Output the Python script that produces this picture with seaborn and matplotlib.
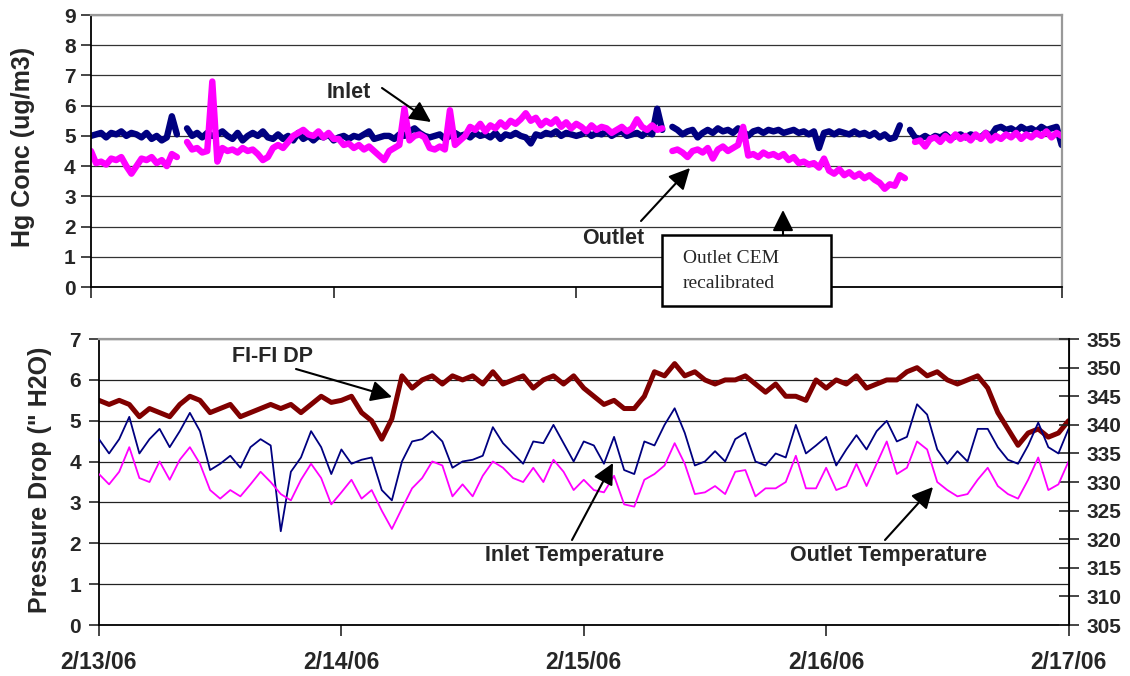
import numpy as np
import pandas as pd
import matplotlib
matplotlib.use('Agg')
import matplotlib.pyplot as plt
import seaborn as sns
from matplotlib.patches import Rectangle, FancyArrowPatch

nan = np.nan

# tick labels for the days
day_ticks = [0, 24, 48, 72, 96]
day_labels = ['2/13/06', '2/14/06', '2/15/06', '2/16/06', '2/17/06']

# Hg concentration, every half hour (ug/m3)
hg_inlet = [
    5.0, 5.05, 5.1, 4.95, 5.1, 5.05, 5.15, 5.0, 5.1, 5.05, 4.95, 5.1, 4.9, 5.0, 4.85, 4.95,
    5.65, 5.05, nan, 5.25,
    5.0, 5.1, 4.95, 5.1, 5.0, 5.05, 5.15, 5.0, 4.9, 5.1, 4.85, 5.0, 5.1, 5.0, 5.15, 4.95,
    4.9, 5.05, 4.9, 5.0, 4.85, 5.1, 4.9, 5.0, 4.85, 5.0, 4.95, 5.05, 4.85,
    4.95, 5.0, 4.9, 5.0, 4.95, 5.05, 5.15, 4.9, 4.95, 5.0, 5.0, 4.9, 5.05, 5.0, 5.15, 5.25,
    5.1, 5.0, 4.95, 5.0, 5.05, 4.9, 5.0, 5.1, 5.0, 5.05, 4.95, 5.1, 5.0, 5.05, 4.95, 5.1,
    4.9, 5.05, 5.0, 5.1, 5.0, 4.95, 4.75, 5.05, 5.0, 5.1, 5.05, 5.15, 5.0, 5.1, 5.05, 5.0,
    5.05, 5.15, 5.0, 5.1, 5.05, 5.15, 5.0, 5.1, 5.15, 5.0, 5.05, 5.1, 5.0, 5.15, 5.05, 5.9,
    5.2, nan, 5.3, 5.2, 5.05, 5.15, 5.2, 4.95, 5.1, 5.2, 5.1, 5.25, 5.15, 5.2, 5.1, 5.25,
    5.15, 5.0, 5.15, 5.2, 5.1, 5.2, 5.15, 5.2, 5.1, 5.15, 5.2, 5.1, 5.15, 5.05, 5.15, 4.6,
    5.1, 5.15, 5.05, 5.15, 5.1, 5.05, 5.15, 5.05, 5.1, 5.0, 5.1, 4.95, 5.05, 4.9, 4.95, 5.35,
    nan, 5.2, 4.95, 4.9, 5.0, 4.9, 5.0, 4.95, 5.05, 4.9, 5.0, 5.05, 4.95, 5.05, 5.0, 4.95,
    5.1, 5.0, 5.25, 5.3, 5.2, 5.25, 5.15, 5.3, 5.2, 5.25, 5.15, 5.3, 5.2, 5.25, 5.3, 4.7,
]
hg_outlet = [
    4.5, 4.1, 4.15, 4.05, 4.25, 4.2, 4.3, 4.0, 3.75, 4.0, 4.25, 4.2, 4.3, 4.1, 4.2, 4.0,
    4.4, 4.3, nan, 4.8,
    4.55, 4.6, 4.45, 4.5, 6.8, 4.15, 4.6, 4.5, 4.55, 4.45, 4.6, 4.5, 4.55, 4.4, 4.2, 4.3,
    4.6, 4.7, 4.6, 4.8, 5.0, 5.1, 5.2, 5.05, 5.0, 5.15, 4.95, 5.1, 4.9,
    4.9, 4.7, 4.75, 4.6, 4.7, 4.55, 4.65, 4.5, 4.35, 4.2, 4.5, 4.6, 4.7, 5.9, 4.85, 5.0,
    5.05, 4.95, 4.6, 4.55, 4.65, 4.55, 5.85, 4.7, 4.85, 5.0, 5.3, 5.2, 5.4, 5.15, 5.35, 5.25,
    5.45, 5.3, 5.5, 5.4, 5.55, 5.75, 5.5, 5.6, 5.35, 5.5, 5.4, 5.55, 5.3, 5.45, 5.25, 5.4,
    5.3, 5.15, 5.35, 5.2, 5.3, 5.25, 5.1, 5.2, 5.3, 5.15, 5.25, 5.55, 5.3, 5.2, 5.35, 5.2,
    5.25, nan, 4.5, 4.55, 4.45, 4.3, 4.5, 4.55, 4.45, 4.6, 4.25, 4.55, 4.65, 4.5, 4.6, 4.7,
    5.3, 4.35, 4.4, 4.3, 4.45, 4.35, 4.4, 4.3, 4.4, 4.2, 4.3, 4.1, 4.15, 4.05, 4.1, 3.95,
    4.25, 3.85, 3.75, 3.9, 3.7, 3.8, 3.65, 3.75, 3.6, 3.7, 3.55, 3.45, 3.25, 3.4, 3.35, 3.7,
    3.6, nan, 4.8, 4.85, 4.65, 4.9, 4.95, 4.8, 5.0, 4.85, 5.05, 4.9, 5.0, 4.85, 5.05, 4.9,
    5.1, 4.85, 5.0, 4.9, 5.05, 4.95, 5.1, 4.9, 5.05, 4.95, 5.1, 5.0, 5.15, 4.95, 5.1, 5.0,
]

# fabric filter pressure drop, hourly (" H2O)
dp = [
    5.5, 5.4, 5.5, 5.4, 5.1, 5.3, 5.2, 5.1, 5.4, 5.6, 5.5, 5.2,
    5.3, 5.4, 5.1, 5.2, 5.3, 5.4, 5.3, 5.4, 5.2, 5.4, 5.6, 5.45,
    5.5, 5.6, 5.2, 5.0, 4.55, 5.05, 6.1, 5.8, 6.0, 6.1, 5.9, 6.1,
    6.0, 6.1, 5.9, 6.2, 5.9, 6.0, 6.1, 5.8, 6.0, 6.1, 5.9, 6.1,
    5.8, 5.6, 5.4, 5.5, 5.3, 5.3, 5.6, 6.2, 6.1, 6.4, 6.1, 6.2,
    6.0, 5.9, 6.0, 6.0, 6.1, 5.9, 5.7, 5.9, 5.6, 5.6, 5.5, 6.0,
    5.8, 6.0, 5.9, 6.1, 5.8, 5.9, 6.0, 6.0, 6.2, 6.3, 6.1, 6.2,
    6.0, 5.9, 6.0, 6.1, 5.8, 5.2, 4.8, 4.4, 4.7, 4.8, 4.6, 4.7,
    5.0,
]

# temperatures, hourly (right axis)
temp_inlet = [
    337.5, 335.0, 337.5, 341.4, 335.0, 337.5, 339.3, 336.1, 338.9, 342.1, 338.9, 332.1,
    333.2, 334.6, 332.5, 336.1, 337.5, 336.4, 321.4, 331.8, 334.3, 338.9, 336.1, 331.4,
    335.7, 333.2, 333.9, 334.3, 328.6, 326.8, 333.6, 337.1, 337.5, 338.9, 337.1, 332.5,
    333.6, 333.9, 334.6, 339.6, 336.8, 335.0, 333.2, 337.1, 336.8, 340.0, 336.8, 333.6,
    337.1, 336.4, 333.2, 337.9, 332.1, 331.4, 337.1, 336.4, 340.0, 342.9, 338.6, 332.9,
    333.6, 335.4, 333.6, 337.5, 338.6, 333.6, 332.9, 335.0, 334.3, 340.0, 335.0, 336.4,
    337.9, 332.9, 335.7, 338.2, 335.7, 338.9, 340.7, 337.1, 337.9, 343.6, 341.8, 335.7,
    333.2, 335.4, 333.6, 339.3, 339.3, 336.1, 333.9, 333.2, 336.4, 340.4, 336.1, 335.0,
    339.3,
]
temp_outlet = [
    331.4, 329.6, 331.8, 336.1, 330.7, 330.0, 333.6, 330.4, 333.9, 336.1, 333.2, 328.6,
    327.1, 328.6, 327.5, 329.6, 331.8, 330.0, 327.9, 326.8, 330.4, 333.2, 330.7, 326.1,
    328.2, 330.4, 327.1, 328.6, 325.0, 321.8, 325.4, 328.9, 330.7, 333.6, 332.9, 327.5,
    329.6, 327.5, 331.1, 333.6, 332.5, 330.7, 330.0, 332.5, 330.0, 333.9, 331.8, 328.6,
    330.4, 328.6, 328.2, 331.1, 326.1, 325.7, 330.4, 331.4, 332.9, 336.8, 333.2, 327.9,
    328.2, 329.3, 327.9, 331.8, 332.1, 327.5, 328.9, 328.9, 330.0, 334.6, 328.9, 328.9,
    332.5, 328.6, 329.3, 333.2, 329.3, 333.2, 337.1, 331.4, 332.5, 337.1, 335.7, 330.0,
    328.6, 327.5, 327.9, 330.4, 332.5, 329.3, 327.9, 327.1, 330.4, 334.3, 328.6, 329.6,
    333.6,
]

NAVY = '#000080'
PINK = '#FF00FF'
MAROON = '#800000'

sns.set_style('ticks')
plt.rcParams['font.family'] = ['Liberation Sans', 'DejaVu Sans']
plt.rcParams['font.weight'] = 'bold'


def draw(ax, vals, color, lw):
    v = np.array(vals, dtype=float)
    df = pd.DataFrame({'hour': np.linspace(0, 96, len(v)), 'val': v})
    df['seg'] = df['val'].isna().cumsum()
    df = df.dropna()
    sns.lineplot(data=df, x='hour', y='val', units='seg', estimator=None, sort=False,
                 color=color, linewidth=lw, ax=ax, legend=False)
    ax.set_xlabel('')
    ax.set_ylabel('')


def fp(x, y):
    return (x / 1130, 1 - y / 676)


fig = plt.figure(figsize=(11.3, 6.76), dpi=100)
ax1 = fig.add_axes([0.0805, 0.5754, 0.859, 0.4024])
ax3 = fig.add_axes([0.0876, 0.0754, 0.858, 0.423])
ax4 = ax3.twinx()

# top panel: Hg
draw(ax1, hg_inlet, NAVY, 4.6)
draw(ax1, hg_outlet, PINK, 4.6)
ax1.set_xlim(0, 96)
ax1.set_ylim(0, 9)
ax1.set_yticks(range(10))
ax1.set_xticks(day_ticks)
ax1.set_xticklabels([])
ax1.grid(axis='y', color='#333333', lw=0.9)
ax1.tick_params(axis='y', direction='out', length=7, width=1.2, pad=4, labelsize=15)
ax1.tick_params(axis='x', direction='out', length=8, width=1.2)
for s in ['left', 'bottom']:
    ax1.spines[s].set_color('black')
    ax1.spines[s].set_linewidth(1.3)
for s in ['top', 'right']:
    ax1.spines[s].set_visible(True)
    ax1.spines[s].set_color('#999999')
    ax1.spines[s].set_linewidth(1.6)

# bottom panel: DP and temperatures
draw(ax3, dp, MAROON, 3.6)
draw(ax4, temp_inlet, NAVY, 1.3)
draw(ax4, temp_outlet, PINK, 1.3)
ax3.set_xlim(0, 96)
ax3.set_ylim(0, 7)
ax3.set_yticks(range(8))
ax4.set_ylim(305, 355)
ax4.set_yticks(range(305, 356, 5))
ax3.set_xticks(day_ticks)
ax3.set_xticklabels(day_labels)
ax3.grid(axis='y', color='#222222', lw=0.9)
ax3.tick_params(axis='y', direction='out', length=7, width=1.2, pad=6, labelsize=15)
ax3.tick_params(axis='x', direction='out', length=8, width=1.2, pad=11, labelsize=16.5)
ax4.tick_params(axis='y', direction='inout', length=14, width=1.2, pad=6, labelsize=15)
for s in ['left', 'bottom']:
    ax3.spines[s].set_color('black')
    ax3.spines[s].set_linewidth(1.3)
ax3.spines['top'].set_visible(True)
ax3.spines['top'].set_color('#999999')
ax3.spines['top'].set_linewidth(1.6)
ax4.spines['right'].set_visible(True)
ax4.spines['right'].set_color('black')
ax4.spines['right'].set_linewidth(1.3)
for s in ['top', 'left', 'bottom']:
    ax4.spines[s].set_visible(False)

fig.text(*fp(23, 147), 'Hg Conc (ug/m3)', rotation=90, ha='center', va='center',
         fontsize=18, fontweight='bold')
fig.text(*fp(40, 480), 'Pressure Drop (" H2O)', rotation=90, ha='center', va='center',
         fontsize=18, fontweight='bold')


def add_arrow(a0, a1):
    fig.add_artist(FancyArrowPatch(fp(*a0), fp(*a1), transform=fig.transFigure,
                                   arrowstyle='-|>', mutation_scale=32, color='black',
                                   lw=1.5, shrinkA=0, shrinkB=0, zorder=4))


# annotations
labels = [
    ('Inlet', (349, 92), (382, 88), (431, 122)),
    ('Outlet', (613, 238), (641, 221), (690, 168)),
    ('FI-FI DP', (272, 357), (296, 369), (392, 397)),
    ('Inlet Temperature', (575, 555), (572, 540), (613, 463)),
    ('Outlet Temperature', (889, 555), (885, 540), (933, 487)),
]
for txt, tpos, a0, a1 in labels:
    fig.text(*fp(*tpos), txt, ha='center', va='center', fontsize=15.5, fontweight='bold')
    add_arrow(a0, a1)

box = Rectangle(fp(662, 306), 169 / 1130, 71 / 676, transform=fig.transFigure,
                facecolor='white', edgecolor='black', lw=1.8, zorder=5)
fig.add_artist(box)
fig.text(*fp(683, 258), 'Outlet CEM', ha='left', va='center', fontsize=14,
         family=['Liberation Serif', 'DejaVu Serif'], fontweight='normal', zorder=6)
fig.text(*fp(683, 283), 'recalibrated', ha='left', va='center', fontsize=14,
         family=['Liberation Serif', 'DejaVu Serif'], fontweight='normal', zorder=6)
add_arrow((783, 235), (783, 210))

fig.savefig('out.png', dpi=100)
